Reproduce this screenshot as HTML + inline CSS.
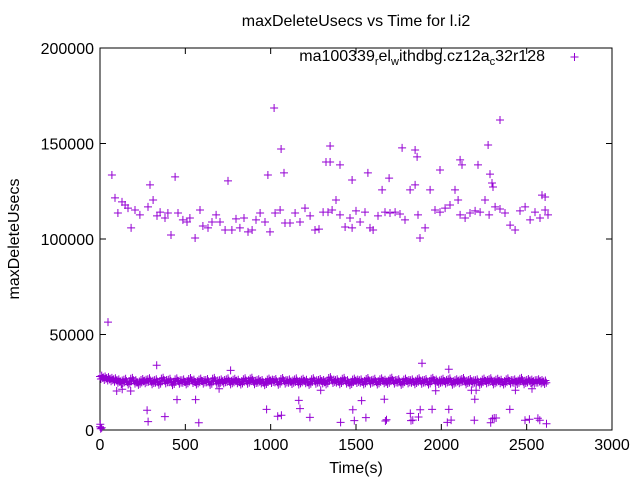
<!DOCTYPE html>
<html><head><meta charset="utf-8"><style>
body{margin:0;background:#fff}
svg text{font-family:"Liberation Sans",sans-serif;font-size:16px;fill:#000}
</style></head><body>
<svg id="chart" width="640" height="480" viewBox="0 0 640 480" xmlns="http://www.w3.org/2000/svg">
<rect width="640" height="480" fill="#fff"/>
<text x="356" y="26" text-anchor="middle">maxDeleteUsecs vs Time for l.i2</text>
<text x="0" y="0" text-anchor="middle" transform="translate(19,239) rotate(-90)">maxDeleteUsecs</text>
<text x="356" y="473" text-anchor="middle">Time(s)</text>
<g id="axes"></g>
<g id="marks"></g>
<g>
<text x="545" y="61" text-anchor="end">ma100339<tspan font-size="11" dy="4">r</tspan><tspan dy="-4">el</tspan><tspan font-size="11" dy="4">w</tspan><tspan dy="-4">ithdbg.cz12a</tspan><tspan font-size="11" dy="4">c</tspan><tspan dy="-4">32r128</tspan></text>
<path d="M570.5 57h8M574.5 53v8" stroke="#9400d3" stroke-width="1"/>
</g>
</svg>
<script>
const xTicks=[0,500,1000,1500,2000,2500,3000];
const yTicks=[0,50000,100000,150000,200000];
const upperT=[70,88,105,129,147,164,182,205,234,281,
293,311,334,352,381,398,416,440,457,486,
510,527,557,586,603,633,656,680,703,733,
750,773,797,820,844,867,891,914,938,967,
984,996,1026,1055,1084,1113,1143,1172,1201,1231,
1260,1283,1307,1336,1360,1383,1406,1436,1465,1477,
1500,1524,1553,1582,1600,1629,1653,1670,1699,1729,
1758,1787,1817,1846,1863,1875,1905,1934,1963,1992,
2022,2051,2080,2098,2110,2139,2168,2198,2227,2256,
2280,2285,2315,2344,2373,2403,2432,2461,2491,2520,
2549,2578,2608,2625,2608,2590,
1020,1061,1078,1324,1348,1477,2344,1348,1406,1570,
1770,2110,2121,1694,1992,1846,1858,2215,2274,2297,2303];
const upperV=[133500,121500,113600,119400,117800,116200,105800,115200,112600,116800,
128300,120400,112100,114100,111000,113600,102100,132500,113600,110000,
108900,111000,100500,115200,106800,105800,108900,112600,108900,104700,
130400,104700,110500,105800,111000,103700,104700,110000,113600,108900,
133500,103700,113600,115200,108400,108400,113600,108900,116200,112100,
104700,105200,114100,114100,115200,120400,112600,106300,111000,105800,
114700,108900,114100,105800,104700,112100,125700,114100,113600,114100,
113100,110000,125700,128300,112600,100500,105800,125700,115200,114100,
116200,117800,125700,120400,112600,111000,113600,114700,114100,120400,
112600,134000,116800,115700,113600,107300,104700,114700,116800,110000,
114100,111000,115200,112600,122000,123000,
168600,147100,134600,140300,140300,130900,162300,148700,138800,134600,
147700,141400,138800,131900,136100,146600,143000,138800,149200,129300,127200];
const lowT=[98,130,180,276,282,332,380,451,560,579,698,765,976,1041,1063,1165,1172,1230,1293,1410,1481,1490,1533,1558,1666,1672,1679,1818,1822,1833,1866,1876,1887,1946,1967,2035,2044,2044,2057,2176,2196,2204,2193,2289,2299,2310,2321,2401,2434,2490,2516,2531,2566,2577,2616,0,4,10,2,47];
const lowV=[20400,21300,20400,10300,4400,33900,7000,15900,15900,3800,21600,31200,10800,7200,7700,15500,11200,6600,20800,4000,10600,4900,15400,6500,16100,4700,5400,8700,4900,5200,6800,10600,34900,10800,20600,4000,10800,31800,5200,20800,16100,20800,5100,3800,5900,6300,6300,10800,20800,5100,5600,21600,6100,5100,3300,1700,700,1200,3000,56500];
const bandStep=20;
const bandV=[28000,27500,27200,26800,26600,26000,25400,26300,25100,26800,25600,24900,26200,25800,26600,25300,26100,25000,26900,25700,26300,24800,26500,25500,26000,25200,26700,25900,25100,26400,25600,26200,24900,26800,25400,26000,25700,26500,25200,26300,25800,25100,26600,25500,26900,25300,26100,25700,24800,26400,25900,26200,25000,26700,25600,26000,25400,26500,25100,26300,25800,24900,26600,25500,26200,25700,25200,27200,25900,26100,25300,26800,25600,24800,26400,25900,26000,25200,26700,25500,26300,25100,26500,25800,25400,26900,25600,26100,24900,26400,25700,26000,25300,26600,25500,26200,25100,26800,25900,25400,26300,25600,26500,25000,26100,25800,26700,25300,26200,25500,26000,24900,26400,25700,26600,25200,26300,25800,25100,26500,25600,26000,25400,26800,25300,26200,25900,25500,26100,25700,25400];
const X0=100,X1=612,Y0=430,Y1=48;
const sx=t=>X0+(t-0)/3000*(X1-X0);
const sy=v=>Y0-(v-0)/200000*(Y0-Y1);
const NS="http://www.w3.org/2000/svg";
const axes=document.getElementById('axes');
const marks=document.getElementById('marks');
let ad=`M${X0} ${Y1}H${X1}V${Y0}H${X0}Z`;
xTicks.forEach(t=>{const x=sx(t);ad+=`M${x} ${Y0}v-6M${x} ${Y1}v6`;
 const tx=document.createElementNS(NS,'text');tx.setAttribute('x',x);tx.setAttribute('y',Y0+20);tx.setAttribute('text-anchor','middle');tx.textContent=t;
 
 
 axes.appendChild(tx);});
yTicks.forEach(v=>{const y=sy(v);ad+=`M${X0} ${y}h6M${X1} ${y}h-6`;
 const tx=document.createElementNS(NS,'text');tx.setAttribute('x',X0-6);tx.setAttribute('y',y+6);tx.setAttribute('text-anchor','end');tx.textContent=v;
 
 
 axes.appendChild(tx);});
const ap=document.createElementNS(NS,'path');ap.setAttribute('d',ad);ap.setAttribute('stroke','#000');ap.setAttribute('fill','none');ap.setAttribute('stroke-width','1');


axes.appendChild(ap);
let md='';
const plus=(t,v)=>{const x=sx(t),y=sy(v);md+=`M${(x-4).toFixed(1)} ${y.toFixed(1)}h8M${x.toFixed(1)} ${(y-4).toFixed(1)}v8`;};
bandV.forEach((v,i)=>{const t=i*bandStep;plus(t,v);plus(t+5,v-1300);plus(t+10,v+500);plus(t+15,v-700);});
upperT.forEach((t,i)=>plus(t,upperV[i]));
lowT.forEach((t,i)=>plus(t,lowV[i]));
const mp=document.createElementNS(NS,'path');mp.setAttribute('d',md);mp.setAttribute('stroke','#9400d3');mp.setAttribute('fill','none');mp.setAttribute('stroke-width','1');


marks.appendChild(mp);
</script>
</body></html>
